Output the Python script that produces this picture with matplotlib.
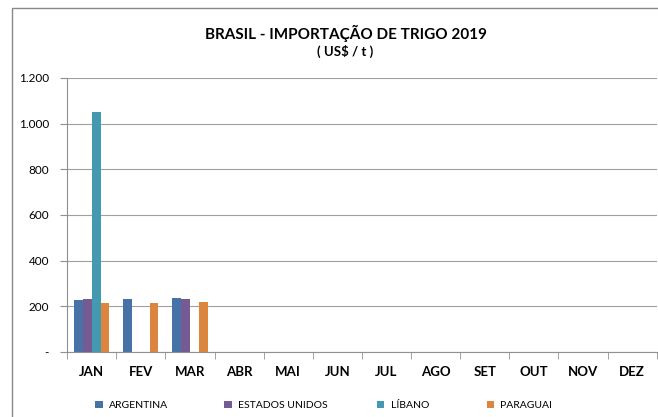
import numpy as np
import matplotlib.pyplot as plt
from matplotlib.patches import Rectangle

# dados (US$/t)
meses = ['JAN', 'FEV', 'MAR', 'ABR', 'MAI', 'JUN', 'JUL', 'AGO', 'SET', 'OUT', 'NOV', 'DEZ']
argentina = [227, 231, 237, np.nan, np.nan, np.nan, np.nan, np.nan, np.nan, np.nan, np.nan, np.nan]
estados_unidos = [234, np.nan, 230, np.nan, np.nan, np.nan, np.nan, np.nan, np.nan, np.nan, np.nan, np.nan]
libano = [1051, np.nan, np.nan, np.nan, np.nan, np.nan, np.nan, np.nan, np.nan, np.nan, np.nan, np.nan]
paraguai = [213, 215, 218, np.nan, np.nan, np.nan, np.nan, np.nan, np.nan, np.nan, np.nan, np.nan]

series = [('ARGENTINA', argentina, '#4672A8'),
          ('ESTADOS UNIDOS', estados_unidos, '#755A93'),
          ('LÍBANO', libano, '#4399B0'),
          ('PARAGUAI', paraguai, '#DC853E')]

plt.rcParams['font.family'] = ['Lato', 'DejaVu Sans']

fig = plt.figure(figsize=(6.58, 4.17), dpi=100)
ax = fig.add_axes([0.102, 0.156, 0.896, 0.657])

x = np.arange(len(meses))
largura = 0.18
barras = []
for i, (nome, valores, cor) in enumerate(series):
    barras.append(ax.bar(x + (i - 1.5) * largura, valores, width=largura, color=cor, label=nome))

ax.set_xlim(-0.5, len(meses) - 0.5)
ax.set_ylim(0, 1200)
ax.set_yticks(range(0, 1201, 200))
ax.set_yticklabels(['-', '200', '400', '600', '800', '1.000', '1.200'], fontsize=8.5)
ax.yaxis.grid(True, color='#a0a0a0', linewidth=0.8)
ax.set_axisbelow(True)

ax.set_xticks(x)
ax.set_xticklabels(meses, fontsize=9.5, fontweight='bold')
ax.set_xticks(np.arange(-0.5, len(meses)), minor=True)
ax.tick_params(axis='x', which='major', length=0, pad=10)
ax.tick_params(axis='x', which='minor', length=5, color='#909090')
ax.tick_params(axis='y', length=5, color='#909090', pad=8)

for lado in ['top', 'right']:
    ax.spines[lado].set_visible(False)
for lado in ['left', 'bottom']:
    ax.spines[lado].set_color('#909090')

fig.text(0.525, 0.921, 'BRASIL - IMPORTAÇÃO DE TRIGO 2019', ha='center', va='center',
         fontsize=11, fontweight='bold')
fig.text(0.525, 0.876, '( US$ / t )', ha='center', va='center', fontsize=9.5, fontweight='bold')

# legenda: uma entrada por posição, como no original
pos_legenda = [0.145, 0.341, 0.573, 0.74]
for (nome, _, _), b, px in zip(series, barras, pos_legenda):
    fig.legend([b], [nome], loc='center left', bbox_to_anchor=(px, 0.027), frameon=False,
               fontsize=7.5, handlelength=0.7, handleheight=0.7, handletextpad=0.6,
               borderpad=0, borderaxespad=0)

# moldura do gráfico
fig.patches.append(Rectangle((0.018, -0.05), 1.2, 1.03, transform=fig.transFigure,
                             fill=False, edgecolor='#888888', linewidth=1))

fig.savefig('out.png', dpi=100)
